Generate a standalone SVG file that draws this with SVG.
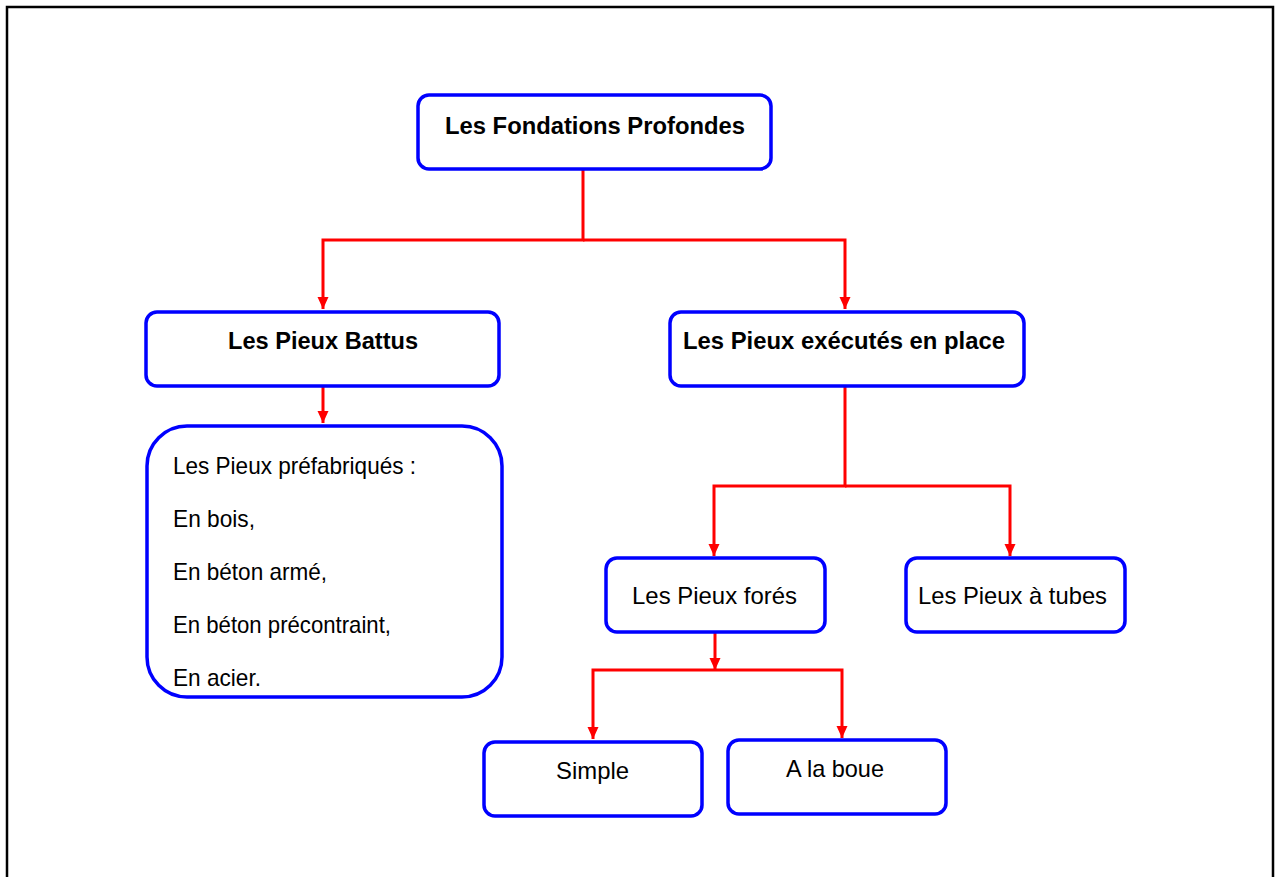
<svg xmlns="http://www.w3.org/2000/svg" width="1280" height="877" viewBox="0 0 1280 877">
<style>
.box{fill:#fff;stroke:#0000ff;stroke-width:3.5}
.con{fill:none;stroke:#ff0000;stroke-width:3}
.tb{font-family:"Liberation Sans",Arial,sans-serif;font-weight:bold;font-size:23px;fill:#000}
.tn{font-family:"Liberation Sans",Arial,sans-serif;font-size:24px;fill:#000}
</style>
<defs>
<marker id="ah" viewBox="0 0 12 12" refX="12" refY="6" markerWidth="12" markerHeight="12" markerUnits="userSpaceOnUse" orient="auto">
<path d="M0,0.5 L12,6 L0,11.5 z" fill="#ff0000"/>
</marker>
</defs>
<rect width="1280" height="877" fill="#fff"/>
<path d="M7,877 V7 H1273 V877" fill="none" stroke="#000" stroke-width="2.5"/>
<g id="connectors">
<path class="con" d="M583,170 V240 H323 V309" marker-end="url(#ah)"/>
<path class="con" d="M583,240 H845 V309" marker-end="url(#ah)"/>
<path class="con" d="M323,387 V423" marker-end="url(#ah)"/>
<path class="con" d="M845,387 V486 H714 V556" marker-end="url(#ah)"/>
<path class="con" d="M845,486 H1010 V556" marker-end="url(#ah)"/>
<path class="con" d="M715,633 V670" marker-end="url(#ah)"/>
<path class="con" d="M715,670 H593 V739" marker-end="url(#ah)"/>
<path class="con" d="M715,670 H842 V738" marker-end="url(#ah)"/>
</g>
<g id="n-fondations">
<rect class="box" x="418" y="95" width="353" height="74" rx="11"/>
<text class="tb" x="445" y="134" textLength="300" lengthAdjust="spacingAndGlyphs">Les Fondations Profondes</text>
</g>
<g id="n-battus">
<rect class="box" x="146" y="312" width="353" height="74" rx="11"/>
<text class="tb" x="228" y="349" textLength="190" lengthAdjust="spacingAndGlyphs">Les Pieux Battus</text>
</g>
<g id="n-executes">
<rect class="box" x="670" y="312" width="354" height="74" rx="11"/>
<text class="tb" x="683" y="349" textLength="322" lengthAdjust="spacingAndGlyphs">Les Pieux exécutés en place</text>
</g>
<g id="n-prefab">
<rect class="box" x="147" y="426" width="355" height="271" rx="40"/>
<text class="tn" x="173" y="474" textLength="243" lengthAdjust="spacingAndGlyphs">Les  Pieux préfabriqués :</text>
<text class="tn" x="173" y="527" textLength="82" lengthAdjust="spacingAndGlyphs">En bois,</text>
<text class="tn" x="173" y="580" textLength="154" lengthAdjust="spacingAndGlyphs">En béton armé,</text>
<text class="tn" x="173" y="633" textLength="218" lengthAdjust="spacingAndGlyphs">En béton précontraint,</text>
<text class="tn" x="173" y="686" textLength="88" lengthAdjust="spacingAndGlyphs">En acier.</text>
</g>
<g id="n-fores">
<rect class="box" x="606" y="558" width="219" height="74" rx="11"/>
<text class="tn" x="632" y="604" textLength="165" lengthAdjust="spacingAndGlyphs">Les Pieux forés</text>
</g>
<g id="n-tubes">
<rect class="box" x="906" y="558" width="219" height="74" rx="11"/>
<text class="tn" x="918" y="604" textLength="189" lengthAdjust="spacingAndGlyphs">Les Pieux à tubes</text>
</g>
<g id="n-simple">
<rect class="box" x="484" y="742" width="218" height="74" rx="11"/>
<text class="tn" x="556" y="779" textLength="73" lengthAdjust="spacingAndGlyphs">Simple</text>
</g>
<g id="n-boue">
<rect class="box" x="728" y="740" width="218" height="74" rx="11"/>
<text class="tn" x="786" y="777" textLength="98" lengthAdjust="spacingAndGlyphs">A la boue</text>
</g>
</svg>
